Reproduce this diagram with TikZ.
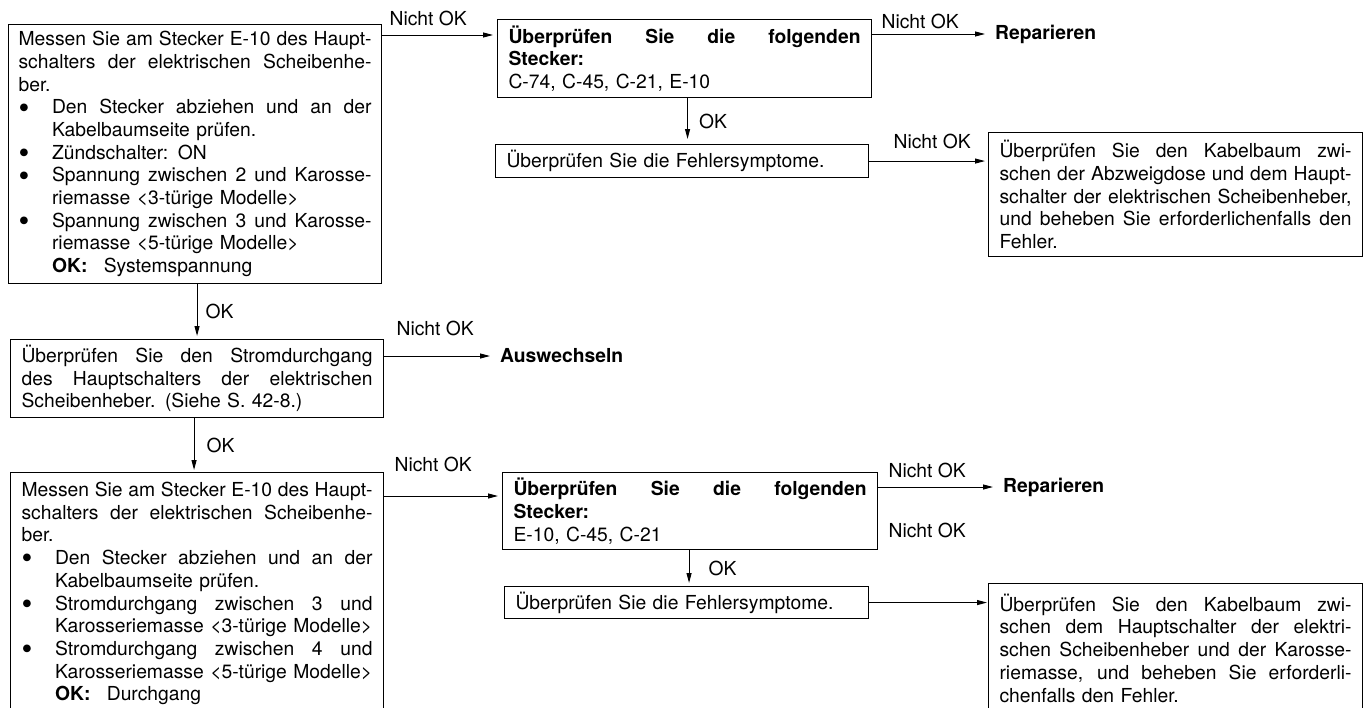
\documentclass[tikz,border=0pt]{standalone}
\usepackage{fontspec}
\setmainfont{TeX Gyre Heros}
\usepackage{tikz}
\usetikzlibrary{positioning,arrows.meta,calc}

\newlength{\bulw}
\setlength{\bulw}{33.5pt}
\newcommand{\boxfont}{\fontsize{19.3}{22.7}\selectfont}
\newcommand{\stretchsp}{\spaceskip=.278em plus 1fil minus .1em\xspaceskip=\spaceskip}
\newcommand{\bdot}{\makebox[\bulw][l]{\raisebox{-0.225em}[0pt][0pt]{\scalebox{1.6}{\textbullet}}}}
\newcommand{\jline}[1]{{\stretchsp\noindent\hbox to\hsize{#1}\par}}
\newcommand{\pline}[1]{\noindent#1\par}
\newcommand{\bjline}[1]{{\stretchsp\noindent\bdot\hbox to\dimexpr\hsize-\bulw\relax{#1}\par}}
\newcommand{\bpline}[1]{\noindent\bdot#1\par}
\newcommand{\ipline}[1]{\noindent\hspace*{\bulw}#1\par}

\begin{document}
\begin{tikzpicture}[
    x=1pt, y=-1pt,
    stepbox/.style={draw, line width=1.1pt, anchor=north west, inner xsep=11pt, inner ysep=0pt, text width=352pt, font=\boxfont},
    lbl/.style={font=\boxfont, inner sep=0pt, anchor=base west},
    oklbl/.style={font=\boxfont, inner sep=0pt, anchor=west},
    target/.style={font=\boxfont\bfseries, inner sep=0pt, anchor=west},
    arr/.style={draw, line width=1pt, -{Triangle[length=10pt,width=5pt]}}
]
\useasboundingbox (0,0) rectangle (1365,707);

\node[stepbox, inner xsep=10pt, text width=353pt, minimum height=259pt] (messA) at (8,24) {
    \jline{Messen Sie am Stecker E-10 des Haupt-}
    \jline{schalters der elektrischen Scheibenhe-}
    \pline{ber.}
    \bjline{Den Stecker abziehen und an der}
    \ipline{Kabelbaumseite prüfen.}
    \bpline{Zündschalter: ON}
    \bjline{Spannung zwischen 2 und Karosse-}
    \ipline{riemasse <3-türige Modelle>}
    \bjline{Spannung zwischen 3 und Karosse-}
    \ipline{riemasse <5-türige Modelle>}
    \ipline{\textbf{OK:}\hspace{0.85em}Systemspannung}};
\node[stepbox, minimum height=78pt] (steckB) at (497,19) {
    \jline{\bfseries Überprüfen Sie die folgenden}
    \pline{\textbf{Stecker:}}
    \pline{C-74, C-45, C-21, E-10}};
\node[stepbox, text width=351pt, minimum height=33pt] (symC) at (495,144) {
    \pline{Überprüfen Sie die Fehlersymptome.}};
\node[stepbox, minimum height=124pt] (kabD) at (988,132) {
    \jline{Überprüfen Sie den Kabelbaum zwi-}
    \jline{schen der Abzweigdose und dem Haupt-}
    \jline{schalter der elektrischen Scheibenheber,}
    \jline{und beheben Sie erforderlichenfalls den}
    \pline{Fehler.}};
\node[stepbox, text width=351pt, minimum height=78pt] (stromE) at (10,339) {
    \jline{Überprüfen Sie den Stromdurchgang}
    \jline{des Hauptschalters der elektrischen}
    \pline{Scheibenheber. (Siehe S. 42-8.)}};
\node[stepbox, text width=351pt, minimum height=242pt] (messF) at (10,472) {
    \jline{Messen Sie am Stecker E-10 des Haupt-}
    \jline{schalters der elektrischen Scheibenhe-}
    \pline{ber.}
    \bjline{Den Stecker abziehen und an der}
    \ipline{Kabelbaumseite prüfen.}
    \bjline{Stromdurchgang zwischen 3 und}
    \ipline{Karosseriemasse <3-türige Modelle>}
    \bjline{Stromdurchgang zwischen 4 und}
    \ipline{Karosseriemasse <5-türige Modelle>}
    \ipline{\textbf{OK:}\hspace{0.85em}Durchgang}};
\node[stepbox, text width=353pt, minimum height=77pt] (steckG) at (502,472) {
    \jline{\bfseries Überprüfen Sie die folgenden}
    \pline{\textbf{Stecker:}}
    \pline{E-10, C-45, C-21}};
\node[stepbox, text width=342pt, minimum height=32pt] (symH) at (504,586) {
    \pline{Überprüfen Sie die Fehlersymptome.}};
\node[stepbox, minimum height=129pt] (kabI) at (988,583) {
    \jline{Überprüfen Sie den Kabelbaum zwi-}
    \jline{schen dem Hauptschalter der elektri-}
    \jline{schen Scheibenheber und der Karosse-}
    \jline{riemasse, und beheben Sie erforderli-}
    \pline{chenfalls den Fehler.}};

\node[target] (rep1) at (995,34) {Reparieren};
\node[target] (ausw) at (500,356) {Auswechseln};
\node[target] (rep2) at (1003,487) {Reparieren};

\draw[arr, shorten >=4pt] ([yshift=-11pt]messA.north east) -- ([yshift=-11pt]messA.north east -| steckB.west)
    node[lbl, pos=0, xshift=7pt, yshift=10pt] {Nicht OK};
\draw[arr, shorten >=10pt] (steckB.east |- rep1.west) -- (rep1.west)
    node[lbl, pos=0, xshift=9pt, yshift=6pt] {Nicht OK};
\draw[arr, shorten >=5pt] ([xshift=3pt]steckB.south) -- ([xshift=3pt]steckB.south |- symC.north)
    node[oklbl, pos=0.5, xshift=11pt] {OK};
\draw[arr, shorten >=3pt] (symC.east) -- (symC.east -| kabD.west)
    node[lbl, pos=0, xshift=24pt, yshift=12.5pt] {Nicht OK};
\draw[arr, shorten >=3pt] ([xshift=2pt]messA.south) -- ([xshift=2pt]messA.south |- stromE.north)
    node[oklbl, pos=0.5, xshift=8pt] {OK};
\draw[arr, shorten >=10pt] (stromE.east |- ausw.west) -- (ausw.west)
    node[lbl, pos=0, xshift=12pt, yshift=21pt] {Nicht OK};
\draw[arr, shorten >=2pt] ([xshift=-3pt]stromE.south) -- ([xshift=-3pt]stromE.south |- messF.north)
    node[oklbl, pos=0.5, xshift=12pt] {OK};
\draw[arr, shorten >=4pt] ([yshift=-24pt]messF.north east) -- ([yshift=-24pt]messF.north east -| steckG.west)
    node[lbl, pos=0, xshift=10pt, yshift=25pt] {Nicht OK};
\draw[arr, shorten >=10pt] (steckG.east |- rep2.west) -- (rep2.west)
    node[lbl, pos=0, xshift=10pt, yshift=10pt] {Nicht OK}
    node[lbl, pos=0, xshift=10pt, yshift=-50pt] {Nicht OK};
\draw[arr, shorten >=3pt] ([xshift=-1pt]steckG.south) -- ([xshift=-1pt]steckG.south |- symH.north)
    node[oklbl, pos=0.5, xshift=19pt] {OK};
\draw[arr, shorten >=1pt] (symH.east) -- (symH.east -| kabI.west);
\end{tikzpicture}
\end{document}
